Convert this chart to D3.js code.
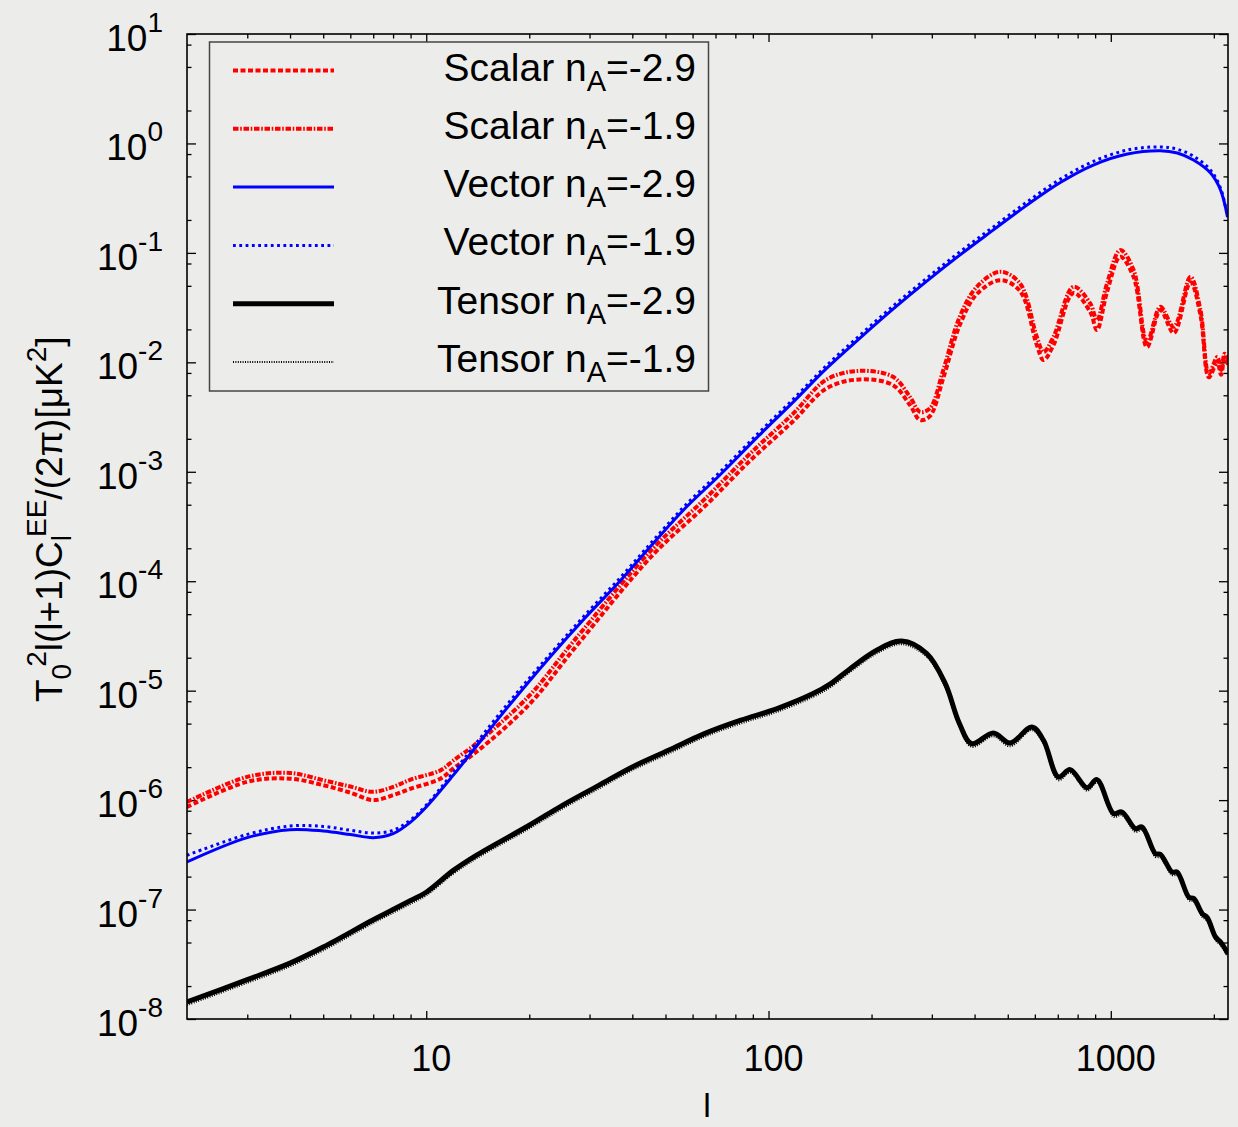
<!DOCTYPE html>
<html><head><meta charset="utf-8">
<script src="https://cdn.jsdelivr.net/npm/d3@7"></script>
<style>
body{margin:0;background:#ecedea;}
svg text{font-family:"Liberation Sans",Arial,Helvetica,sans-serif;fill:#000;}
</style></head><body><svg id="c" width="1238" height="1127"></svg>
<script>
// ---------------- data ----------------
const legendLabels = ["Scalar", "Scalar", "Vector", "Vector", "Tensor", "Tensor"];
const legendIndex = ["-2.9", "-1.9", "-2.9", "-1.9", "-2.9", "-1.9"];
const xTickLabels = ["10", "100", "1000"];
const yTickExponents = [-8, -7, -6, -5, -4, -3, -2, -1, 0, 1];

const lScalar = [2,3,4,5,6,7,8,9,11,12,14,20,27,46,65,88,118,148,185,231,259,277,296,324,362,406,475,543,608,636,680,778,871,911,975,1066,1166,1276,1396,1528,1709,1828,1934,2046,2100,2150,2200];
const scalarM29 = [8.65e-7,1.47e-6,1.57e-6,1.37e-6,1.17e-6,1.0e-6,1.11e-6,1.27e-6,1.57e-6,1.95e-6,2.75e-6,7.5e-6,2.4e-5,1.75e-4,4.8e-4,1.25e-3,2.9e-3,5.8e-3,6.98e-3,6.19e-3,4.07e-3,2.97e-3,3.22e-3,7.17e-3,0.0219,0.042,0.0563,0.0448,0.01436,0.0105,0.01436,0.043,0.0288,0.0197,0.0439,0.092,0.0601,0.01377,0.030,0.0185,0.054,0.027,7.3e-3,0.0100,7.7e-3,0.011,0.0095];
const scalarM19 = [9.6e-7,1.63e-6,1.77e-6,1.52e-6,1.33e-6,1.19e-6,1.32e-6,1.54e-6,1.87e-6,2.3e-6,3.28e-6,9.0e-6,2.85e-5,2.0e-4,5.6e-4,1.45e-3,3.4e-3,6.98e-3,8.36e-3,7.37e-3,4.84e-3,3.53e-3,3.79e-3,8.49e-3,0.0261,0.049,0.0672,0.0526,0.0171,0.01247,0.0171,0.049,0.0345,0.0243,0.0526,0.106,0.0697,0.0154,0.0322,0.0211,0.0605,0.030,7.9e-3,0.0112,8.5e-3,0.012,0.0105];

const lVector = [2,3,4,5,6,7,8,9,10,12,17,23,29,37,46,57,72,94,118,148,185,231,290,362,453,569,712,889,1118,1396,1565,1744,1956,2093,2193];
const vectorM29 = [2.72e-7,4.54e-7,5.37e-7,5.22e-7,4.85e-7,4.54e-7,4.94e-7,6.3e-7,8.65e-7,1.69e-6,6.6e-6,2.03e-5,4.56e-5,1.02e-4,2.21e-4,4.62e-4,9.3e-4,2.16e-3,4.33e-3,8.85e-3,0.01665,0.0306,0.0552,0.0955,0.1614,0.2733,0.44,0.635,0.80,0.858,0.817,0.705,0.536,0.375,0.212];
const vectorM19 = [3.13e-7,4.86e-7,5.8e-7,5.75e-7,5.3e-7,5.0e-7,5.3e-7,6.6e-7,9.0e-7,1.8e-6,7.1e-6,2.15e-5,4.85e-5,1.09e-4,2.35e-4,4.9e-4,9.9e-4,2.3e-3,4.6e-3,9.4e-3,0.0177,0.0326,0.0588,0.102,0.172,0.292,0.472,0.685,0.87,0.93,0.885,0.765,0.57,0.39,0.215];

const lTensor = [2,3,4,5,7,8,9,10,12,14,20,25,32,40,51,65,83,106,135,152,171,207,245,290,328,361,392,454,508,588,636,703,761,852,911,1019,1078,1180,1234,1350,1396,1511,1563,1690,1748,1850,1913,2023,2093,2200];
const tensorM29 = [1.43e-8,2.29e-8,3.24e-8,4.54e-8,8.07e-8,1.0e-7,1.21e-7,1.44e-7,2.28e-7,3.13e-7,5.89e-7,8.96e-7,1.37e-6,2.01e-6,2.85e-6,4.05e-6,5.37e-6,6.86e-6,9.4e-6,1.16e-5,1.54e-5,2.34e-5,2.84e-5,2.18e-5,1.17e-5,5.03e-6,3.28e-6,4.1e-6,3.32e-6,4.66e-6,3.52e-6,1.63e-6,1.90e-6,1.30e-6,1.54e-6,7.53e-7,7.79e-7,5.49e-7,5.68e-7,3.24e-7,3.2e-7,2.2e-7,2.2e-7,1.3e-7,1.26e-7,9.18e-8,8.44e-8,5.61e-8,5.05e-8,3.95e-8];
const tensorM19 = [1.34e-8,2.14e-8,3.03e-8,4.24e-8,7.55e-8,9.35e-8,1.13e-7,1.35e-7,2.13e-7,2.93e-7,5.51e-7,8.38e-7,1.28e-6,1.88e-6,2.66e-6,3.79e-6,5.02e-6,6.41e-6,8.79e-6,1.08e-5,1.44e-5,2.19e-5,2.66e-5,2.04e-5,1.09e-5,4.70e-6,3.07e-6,3.83e-6,3.10e-6,4.36e-6,3.29e-6,1.52e-6,1.78e-6,1.22e-6,1.44e-6,7.04e-7,7.28e-7,5.13e-7,5.31e-7,3.03e-7,2.99e-7,2.06e-7,2.06e-7,1.22e-7,1.18e-7,8.58e-8,7.89e-8,5.25e-8,4.72e-8,3.69e-8];

// ---------------- styles ----------------
const styles = [
  {color:"#ff0000", width:4,   dash:"5,2.5"},
  {color:"#ff0000", width:4,   dash:"5.5,1.7,1.6,1.7"},
  {color:"#0000ff", width:3,   dash:null},
  {color:"#0000ff", width:3,   dash:"2.8,3.5"},
  {color:"#000000", width:5,   dash:null},
  {color:"#000000", width:2,   dash:"1,1.4"}
];
const series = [
  {l:lScalar, v:scalarM29},
  {l:lScalar, v:scalarM19},
  {l:lVector, v:vectorM29},
  {l:lVector, v:vectorM19},
  {l:lTensor, v:tensorM29},
  {l:lTensor, v:tensorM19}
];

const svg = d3.select("#c");
const L = 187, R = 1228, T = 34, B = 1019;
const x = d3.scaleLog().domain([2, 2200]).range([L, R]);
const y = d3.scaleLog().domain([1e-8, 10]).range([B, T]);

svg.append("rect").attr("width",1238).attr("height",1127).attr("fill","#ecedea");

svg.append("defs").append("clipPath").attr("id","clip")
  .append("rect").attr("x",L).attr("y",T).attr("width",R-L).attr("height",B-T);

// ticks
const xMajor = [10,100,1000];
const xMinor = [];
[1,10,100,1000].forEach(d => { for (let m=2;m<=9;m++){ const v=m*d; if(v>2 && v<2200) xMinor.push(v);} });
const yMajor = yTickExponents.map(e => Math.pow(10,e));
const yMinor = [];
yTickExponents.forEach(e => { if (e<1) [2,5,8].forEach(m => yMinor.push(m*Math.pow(10,e))); });

function tickAxis(gen, tv, size, tr){
  const g = svg.append("g").attr("transform", tr)
    .call(gen.tickValues(tv).tickSize(size).tickFormat(""));
  g.select(".domain").remove();
  g.selectAll("line").attr("stroke","#000").attr("stroke-width",1.3);
}
tickAxis(d3.axisBottom(x), xMajor, -8, `translate(0,${B})`);
tickAxis(d3.axisBottom(x), xMinor, -4.5, `translate(0,${B})`);
tickAxis(d3.axisTop(x), xMajor, -8, `translate(0,${T})`);
tickAxis(d3.axisTop(x), xMinor, -4.5, `translate(0,${T})`);
tickAxis(d3.axisLeft(y), yMajor, -9, `translate(${L},0)`);
tickAxis(d3.axisLeft(y), yMinor, -4.5, `translate(${L},0)`);
tickAxis(d3.axisRight(y), yMajor, -9, `translate(${R},0)`);
tickAxis(d3.axisRight(y), yMinor, -4.5, `translate(${R},0)`);

// curves
const line = d3.line().x(d => x(d[0])).y(d => y(d[1])).curve(d3.curveCatmullRom.alpha(0.5));
const pg = svg.append("g").attr("clip-path","url(#clip)");
series.forEach((s,i) => {
  const st = styles[i];
  pg.append("path")
    .datum(s.l.map((l,j) => [l, s.v[j]]))
    .attr("d", line).attr("fill","none")
    .attr("stroke", st.color).attr("stroke-width", st.width)
    .attr("stroke-dasharray", st.dash)
    .attr("stroke-linejoin","round");
});

// frame
svg.append("rect").attr("x",L).attr("y",T).attr("width",R-L).attr("height",B-T)
  .attr("fill","none").attr("stroke","#000").attr("stroke-width",1.6);

// y tick labels
yMajor.forEach((v,i) => {
  const t = svg.append("text").attr("x",163).attr("y", y(v)+17)
    .attr("text-anchor","end").attr("font-size",37);
  t.append("tspan").text("10");
  t.append("tspan").attr("dy",-19).attr("font-size",28).text(String(yTickExponents[i]));
});

// x tick labels
xMajor.forEach((v,i) => {
  svg.append("text").attr("x", x(v)+5).attr("y",1071)
    .attr("text-anchor","middle").attr("font-size",36).text(xTickLabels[i]);
});

// axis titles
svg.append("text").attr("x",707).attr("y",1117).attr("text-anchor","middle")
  .attr("font-size",34).text("l");

function rich(t, parts, subOff, supOff, small){
  let cur = 0;
  parts.forEach(p => {
    const target = p.s==="sub" ? subOff : p.s==="sup" ? supOff : 0;
    const ts = t.append("tspan").text(p.t);
    if (target !== cur) ts.attr("dy", target - cur);
    if (p.dx) ts.attr("dx", p.dx);
    if (p.s) ts.attr("font-size", small);
    cur = target;
  });
}
const yl = svg.append("text").attr("transform","translate(62,702) rotate(-90)")
  .attr("font-size",37);
rich(yl, [
  {t:"T"},{t:"0",s:"sub"},{t:"2",s:"sup",dx:-3},{t:"l(l+1)C"},{t:"l",s:"sub"},
  {t:"EE",s:"sup",dx:-2},{t:"/(2π)[μK"},{t:"2",s:"sup"},{t:"]"}
], 9, -16, 28);

// legend
svg.append("rect").attr("x",209.5).attr("y",42).attr("width",499).attr("height",349)
  .attr("fill","none").attr("stroke","#444").attr("stroke-width",1.5);
legendLabels.forEach((lab,i) => {
  const yy = 70.5 + i*58.3;
  const st = styles[i];
  svg.append("line").attr("x1",233).attr("x2",334).attr("y1",yy).attr("y2",yy)
    .attr("stroke",st.color).attr("stroke-width",st.width).attr("stroke-dasharray",st.dash);
  const t = svg.append("text").attr("x",696).attr("y",yy+10).attr("text-anchor","end")
    .attr("font-size",39);
  rich(t, [{t: lab + " n"},{t:"A",s:"sub"},{t:"=" + legendIndex[i]}], 10, 0, 29);
});
</script></body></html>
